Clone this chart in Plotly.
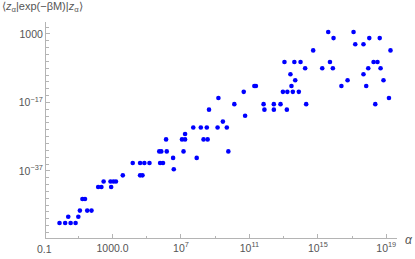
import plotly.graph_objects as go

# log10 of alpha and of <z|exp(-beta M)|z>
alpha_log10 = [-0.10, 0.23, 0.55, 0.84, 0.41, 1.00, 1.09, 1.24, 1.39, 1.52,
               1.77, 2.16, 2.35, 2.48, 2.92, 2.88, 3.05, 3.20, 3.60, 4.18,
               4.61, 4.86, 5.16, 4.61, 4.75, 5.73, 5.85, 6.17, 6.13, 5.78,
               5.95, 6.54, 6.58, 7.06, 7.24, 7.24, 7.15, 7.72, 8.16, 8.51,
               8.32, 8.56, 7.92, 9.14, 9.45, 9.68, 9.77, 8.64, 9.19, 10.12,
               10.75, 10.67, 11.29, 11.38, 11.83, 11.88, 12.43, 12.43, 12.82, 13.19,
               12.96, 13.22, 13.54, 13.89, 13.46, 13.68, 13.40, 13.05, 13.63, 13.99,
               14.26, 14.32, 14.73, 15.26, 15.71, 15.88, 15.61, 15.92, 16.38, 16.74,
               17.09, 17.19, 17.67, 18.01, 17.67, 17.83, 17.95, 18.26, 18.49, 18.62,
               18.67, 18.84, 18.36, 19.16, 19.25]
value_log10 = [-52.2, -52.2, -52.2, -52.2, -50.4, -50.4, -48.6, -45.2, -45.2, -48.6,
               -48.6, -41.7, -41.7, -40.1, -41.7, -40.1, -40.1, -40.1, -38.3, -34.7,
               -34.7, -34.7, -34.7, -38.3, -38.3, -31.3, -31.3, -31.3, -27.8, -34.7,
               -34.7, -33.2, -36.5, -27.8, -27.8, -26.2, -31.3, -24.3, -24.3, -24.3,
               -27.8, -27.8, -33.2, -24.3, -22.6, -24.3, -31.3, -19.1, -15.7, -17.5,
               -20.9, -13.9, -12.2, -12.2, -17.5, -19.1, -17.5, -19.1, -17.5, -19.1,
               -13.9, -13.9, -13.9, -13.9, -12.2, -10.5, -8.75, -5.2, -5.2, -5.2,
               -7.0, -17.5, -1.8, -7.0, -5.2, -7.0, 3.6, 1.8, -12.2, -10.5,
               3.6, 0.0, 0.0, 1.8, -8.75, -12.2, -7.0, -5.2, -5.2, 1.8,
               -7.0, -10.5, -17.5, -15.7, -1.8]

x_major = [-1, 3, 7, 11, 15, 19]
x_major_text = ["0.1", "1000.0", "10<sup>7</sup>", "10<sup>11</sup>",
                "10<sup>15</sup>", "10<sup>19</sup>"]
x_minor = [1, 5, 9, 13, 17]
y_major = [3, -17, -37]
y_major_text = ["1000", "10<sup>−17</sup>", "10<sup>−37</sup>"]
y_minor = [e for e in range(5, -57, -2) if e not in y_major]

x_range = [-0.89, 19.63]
y_range = [-56.6, 6.5]

xs = [10 ** a for a in alpha_log10]
ys = [10 ** v for v in value_log10]

axis_col = "#b4b4b4"
text_col = "#555555"
font = dict(family="Liberation Sans, Arial, sans-serif", size=10.5, color=text_col)

fig = go.Figure(go.Scatter(
    x=xs, y=ys, mode="markers",
    marker=dict(color="#0000ff", size=4.6, line=dict(width=0)),
    hoverinfo="skip",
))

common = dict(showgrid=False, zeroline=False, showline=True, linecolor=axis_col,
              linewidth=1, ticks="inside", ticklen=4, tickcolor=axis_col,
              tickwidth=1, tickfont=font, automargin=False)

fig.update_xaxes(type="log", range=x_range,
                 tickmode="array", tickvals=[10 ** e for e in x_major],
                 ticktext=x_major_text,
                 minor=dict(tickmode="array", tickvals=[10 ** e for e in x_minor],
                            ticks="inside", ticklen=2.5, tickcolor=axis_col),
                 **common)
fig.update_yaxes(type="log", range=y_range,
                 tickmode="array", tickvals=[10 ** e for e in y_major],
                 ticktext=y_major_text,
                 minor=dict(tickmode="array", tickvals=[10 ** e for e in y_minor],
                            ticks="inside", ticklen=2.5, tickcolor=axis_col),
                 **common)

# the first x tick label lies just left of the plotted range, as in the reference
first_x = (x_major[0] - x_range[0]) / (x_range[1] - x_range[0])
first_label = dict(text=x_major_text[0], xref="paper", yref="paper",
                   x=first_x, y=0.0, yshift=-11, xanchor="center",
                   yanchor="middle", showarrow=False, font=font)

fig.update_layout(
    width=415, height=259,
    margin=dict(l=46, r=18, t=22, b=21),
    paper_bgcolor="white", plot_bgcolor="white",
    showlegend=False,
    font=font,
    annotations=[
        first_label,
        dict(text="⟨<i>z</i><sub>α</sub>|exp(−βM)|<i>z</i><sub>α</sub>⟩",
             xref="paper", yref="paper", x=-0.131, y=1.0, yshift=15,
             xanchor="left", yanchor="middle", showarrow=False,
             font=dict(family="Liberation Sans, Arial, sans-serif", size=11, color=text_col)),
        dict(text="<i>α</i>", xref="paper", yref="paper", x=1.0, y=0.0,
             xshift=12, yshift=-2, xanchor="center", yanchor="middle", showarrow=False,
             font=dict(family="Liberation Sans, Arial, sans-serif", size=12, color=text_col)),
    ],
)

fig.write_html("out.html",
               config={"displayModeBar": False, "staticPlot": True},
               post_script="document.body.style.margin='0';"
                           "document.body.style.overflow='hidden';")
